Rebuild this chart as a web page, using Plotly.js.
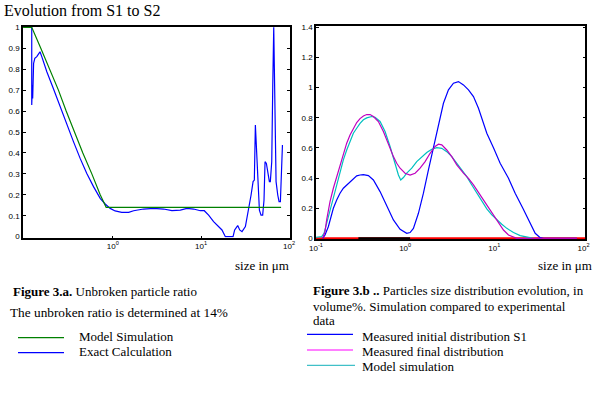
<!DOCTYPE html>
<html>
<head>
<meta charset="utf-8">
<script src="https://cdn.plot.ly/plotly-3.0.1.min.js"></script>
<style>html,body{margin:0;padding:0;background:#fff;}#chart{width:600px;height:399px;}</style>
</head>
<body>
<div id="chart"></div>
<script>
// ---- Left chart: unbroken particle ratio (size in µm) ----
var leftModelX = [0.0957, 0.120, 0.152, 0.1905, 0.241, 0.295, 0.363, 0.456, 0.577, 0.718, 0.839, 81.1];
var leftModelY = [1.0, 1.0, 0.9, 0.8, 0.7, 0.6, 0.5, 0.4, 0.3, 0.2, 0.14, 0.14];

var leftExactX = [0.120,0.120,0.122,0.123,0.126,0.130,0.137,0.143,0.149,0.156,0.178,0.211,0.252,0.300,0.357,0.425,0.506,0.603,0.718,0.818,0.932,1.06,1.26,1.51,1.72,2.23,2.90,3.76,4.68,5.82,6.93,8.24,9.82,10.9,12.2,13.9,15.9,17.3,18.9,23.1,24.1,26.1,27.5,29.2,31.9,34.8,37.0,39.0,40.3,41.4,42.1,42.8,43.6,44.8,46.0,48.0,50.1,51.9,53.3,55.2,57.6,59.7,61.2,63.5,65.2,66.9,68.0,69.2,71.1,74.3,76.9,79.6,81.8,84.0];
var leftExactY = [1.0,0.629,0.724,0.66,0.828,0.852,0.86,0.872,0.883,0.86,0.788,0.708,0.621,0.533,0.454,0.374,0.302,0.239,0.183,0.156,0.135,0.123,0.116,0.116,0.124,0.132,0.135,0.132,0.124,0.127,0.135,0.132,0.124,0.124,0.103,0.072,0.048,0.032,0.0,0.0,0.032,0.053,0.032,0.024,0.048,0.127,0.199,0.263,0.27,0.533,0.462,0.47,0.334,0.207,0.127,0.103,0.103,0.175,0.358,0.35,0.302,0.263,0.263,0.358,0.716,1.0,0.804,0.501,0.263,0.199,0.167,0.167,0.318,0.438];

// ---- Right chart: particle size distribution (volume %) ----
var initialX = [0.1188,0.1262,0.1375,0.1565,0.1706,0.1859,0.2027,0.2210,0.2408,0.2624,0.2861,0.3118,0.3399,0.3868,0.4401,0.5229,0.6212,0.7380,0.8767,1.041,1.135,1.237,1.408,1.602,1.823,2.075,2.361,2.686,3.057,3.479,3.958,4.505,5.126,5.833,6.637,7.235,8.232,9.779,11.62,14.41,17.12,20.88,25.23,28.71,32.66,35.60,84.25];
var initialY = [0,0.022,0.077,0.199,0.254,0.299,0.332,0.354,0.376,0.398,0.414,0.420,0.423,0.416,0.387,0.310,0.221,0.122,0.060,0.033,0.038,0.066,0.166,0.299,0.454,0.609,0.763,0.896,0.985,1.029,1.040,1.018,0.985,0.940,0.863,0.801,0.697,0.600,0.498,0.398,0.299,0.199,0.100,0.033,0.004,0,0];

var finalX = [0.1188,0.1262,0.1317,0.1436,0.1565,0.1706,0.1859,0.2027,0.2210,0.2408,0.2624,0.2861,0.3118,0.3399,0.3705,0.4037,0.4401,0.5008,0.5699,0.6485,0.7380,0.8042,0.8767,0.9974,1.135,1.292,1.470,1.673,1.904,2.166,2.361,2.573,2.928,3.332,3.791,4.505,5.126,5.833,6.637,7.551,8.596,9.779,11.13,12.66,14.41,16.40,17.87,84.25];
var finalY = [0,0.044,0.122,0.243,0.332,0.409,0.487,0.564,0.631,0.686,0.730,0.768,0.794,0.812,0.821,0.821,0.808,0.775,0.708,0.620,0.542,0.498,0.465,0.432,0.420,0.432,0.465,0.509,0.564,0.609,0.624,0.620,0.586,0.542,0.487,0.432,0.398,0.354,0.303,0.254,0.206,0.155,0.104,0.055,0.022,0.007,0,0];

var modelX = [0.1,0.1158,0.1230,0.1317,0.1436,0.1565,0.1706,0.1859,0.2027,0.2210,0.2408,0.2624,0.2861,0.3118,0.3399,0.3705,0.4216,0.4595,0.5229,0.5950,0.6770,0.7702,0.8398,0.8917,0.9555,1.041,1.185,1.348,1.535,1.746,1.987,2.261,2.573,2.928,3.332,3.791,4.314,4.909,5.587,6.357,7.235,8.232,9.367,10.66,12.13,13.80,16.40,19.49,23.14,27.50];
var modelY = [0.007,0.011,0.033,0.100,0.188,0.277,0.354,0.443,0.520,0.586,0.642,0.697,0.730,0.763,0.786,0.799,0.808,0.803,0.775,0.708,0.609,0.498,0.420,0.387,0.403,0.432,0.465,0.509,0.542,0.569,0.591,0.602,0.597,0.575,0.542,0.498,0.454,0.409,0.354,0.299,0.243,0.195,0.155,0.122,0.093,0.066,0.038,0.018,0.007,0];

var zeroRedX = [0.1, 105];
var zeroRedY = [0, 0];
var zeroBlackX = [0.2987, 1.135];
var zeroBlackY = [0, 0];

// ---- tick labels ----
var leftXTickVals = [1, 10, 100];
var leftXTickText = ['10<sup>0</sup>', '10<sup>1</sup>', '10<sup>2</sup>'];
var rightXTickVals = [0.1, 1, 10, 100];
var rightXTickText = ['10<sup>-1</sup>', '10<sup>0</sup>', '10<sup>1</sup>', '10<sup>2</sup>'];
var leftYTickVals = [0, 0.1, 0.2, 0.3, 0.4, 0.5, 0.6, 0.7, 0.8, 0.9, 1];
var leftYTickText = ['0', '0.1', '0.2', '0.3', '0.4', '0.5', '0.6', '0.7', '0.8', '0.9', '1'];
var rightYTickVals = [0, 0.2, 0.4, 0.6, 0.8, 1, 1.2, 1.4];
var rightYTickText = ['0', '0.2', '0.4', '0.6', '0.8', '1', '1.2', '1.4'];

var W = 600, H = 399;
function px(x) { return x / W; }
function py(y) { return 1 - y / H; }

var LW = 1.2;
var traces = [
  {x: leftExactX, y: leftExactY, xaxis: 'x', yaxis: 'y', mode: 'lines', line: {color: '#0000ff', width: LW}},
  {x: leftModelX, y: leftModelY, xaxis: 'x', yaxis: 'y', mode: 'lines', line: {color: '#008000', width: LW}},
  {x: zeroRedX, y: zeroRedY, xaxis: 'x2', yaxis: 'y2', mode: 'lines', line: {color: '#ff0000', width: 2}},
  {x: zeroBlackX, y: zeroBlackY, xaxis: 'x2', yaxis: 'y2', mode: 'lines', line: {color: '#000000', width: 2}},
  {x: initialX, y: initialY, xaxis: 'x2', yaxis: 'y2', mode: 'lines', line: {color: '#0000ff', width: LW}},
  {x: modelX, y: modelY, xaxis: 'x2', yaxis: 'y2', mode: 'lines', line: {color: '#00bfbf', width: LW}},
  {x: finalX, y: finalY, xaxis: 'x2', yaxis: 'y2', mode: 'lines', line: {color: '#bf00bf', width: LW}}
];

var serif = 'Liberation Serif, Times New Roman, serif';
var axisCommon = {
  showline: true, mirror: 'ticks', linecolor: '#000', linewidth: 1.5,
  ticks: 'inside', ticklen: 3, tickwidth: 1, tickcolor: '#000',
  showgrid: false, zeroline: false, layer: 'below traces',
  tickfont: {family: 'Liberation Sans, Arial, sans-serif', size: 8, color: '#000'}
};
function ax(extra) { return Object.assign({}, axisCommon, extra); }

var annotations = [
  {text: 'Evolution from S1 to S2', x: px(2), y: py(10), font: {family: serif, size: 16}},
  {text: 'size in μm', x: px(233), y: py(265), font: {family: serif, size: 13}},
  {text: 'size in μm', x: px(536), y: py(265), font: {family: serif, size: 13}},
  {text: '<b>Figure 3.a.</b> Unbroken particle ratio', x: px(11), y: py(291), font: {family: serif, size: 13}},
  {text: 'The unbroken ratio is determined at 14%', x: px(8), y: py(312), font: {family: serif, size: 13.3}},
  {text: 'Model Simulation', x: px(77), y: py(336), font: {family: serif, size: 13}},
  {text: 'Exact Calculation', x: px(77), y: py(351), font: {family: serif, size: 13}},
  {text: '<b>Figure 3.b ..</b> Particles size distribution evolution, in', x: px(311), y: py(290.5), font: {family: serif, size: 13}},
  {text: 'volume%. Simulation compared to experimental', x: px(311), y: py(306), font: {family: serif, size: 13}},
  {text: 'data', x: px(311), y: py(320.5), font: {family: serif, size: 13}},
  {text: 'Measured initial distribution S1', x: px(360), y: py(336), font: {family: serif, size: 13}},
  {text: 'Measured final distribution', x: px(360), y: py(351), font: {family: serif, size: 13}},
  {text: 'Model simulation', x: px(360), y: py(366), font: {family: serif, size: 13}}
].map(function (a) {
  return Object.assign({xref: 'paper', yref: 'paper', xanchor: 'left', yanchor: 'middle', showarrow: false, align: 'left'}, a, {font: Object.assign({color: '#000'}, a.font)});
});

function legLine(x0, x1, y, color) {
  return {type: 'line', xref: 'paper', yref: 'paper', x0: px(x0), x1: px(x1), y0: py(y), y1: py(y), line: {color: color, width: 1.2}};
}
var shapes = [
  legLine(18, 64, 337.7, '#008000'),
  legLine(18, 64, 352.7, '#0000ff'),
  legLine(307, 353, 334.3, '#0000ff'),
  legLine(307, 353, 350, '#ff00ff'),
  legLine(307, 355, 365.3, '#40c0c8')
];

var layout = {
  width: W, height: H,
  margin: {l: 0, r: 0, t: 0, b: 0},
  paper_bgcolor: '#fff', plot_bgcolor: '#fff',
  showlegend: false,
  xaxis: ax({type: 'log', domain: [px(23), px(290)], range: [-1.02, 2.01], anchor: 'y', mirror: true,
             tickvals: leftXTickVals, ticktext: leftXTickText, ticklen: 2}),
  yaxis: ax({domain: [py(237.5), py(26.5)], range: [-0.004, 1.004], anchor: 'x',
             tickvals: leftYTickVals, ticktext: leftYTickText}),
  xaxis2: ax({type: 'log', domain: [px(316), px(585.3)], range: [-1, 2.02], anchor: 'y2', mirror: true,
              tickvals: rightXTickVals, ticktext: rightXTickText, ticklen: 2}),
  yaxis2: ax({domain: [py(239.35), py(26.25)], range: [-0.007, 1.407], anchor: 'x2',
              tickvals: rightYTickVals, ticktext: rightYTickText}),
  annotations: annotations,
  shapes: shapes
};

Plotly.newPlot('chart', traces, layout, {displayModeBar: false});
</script>
</body>
</html>
